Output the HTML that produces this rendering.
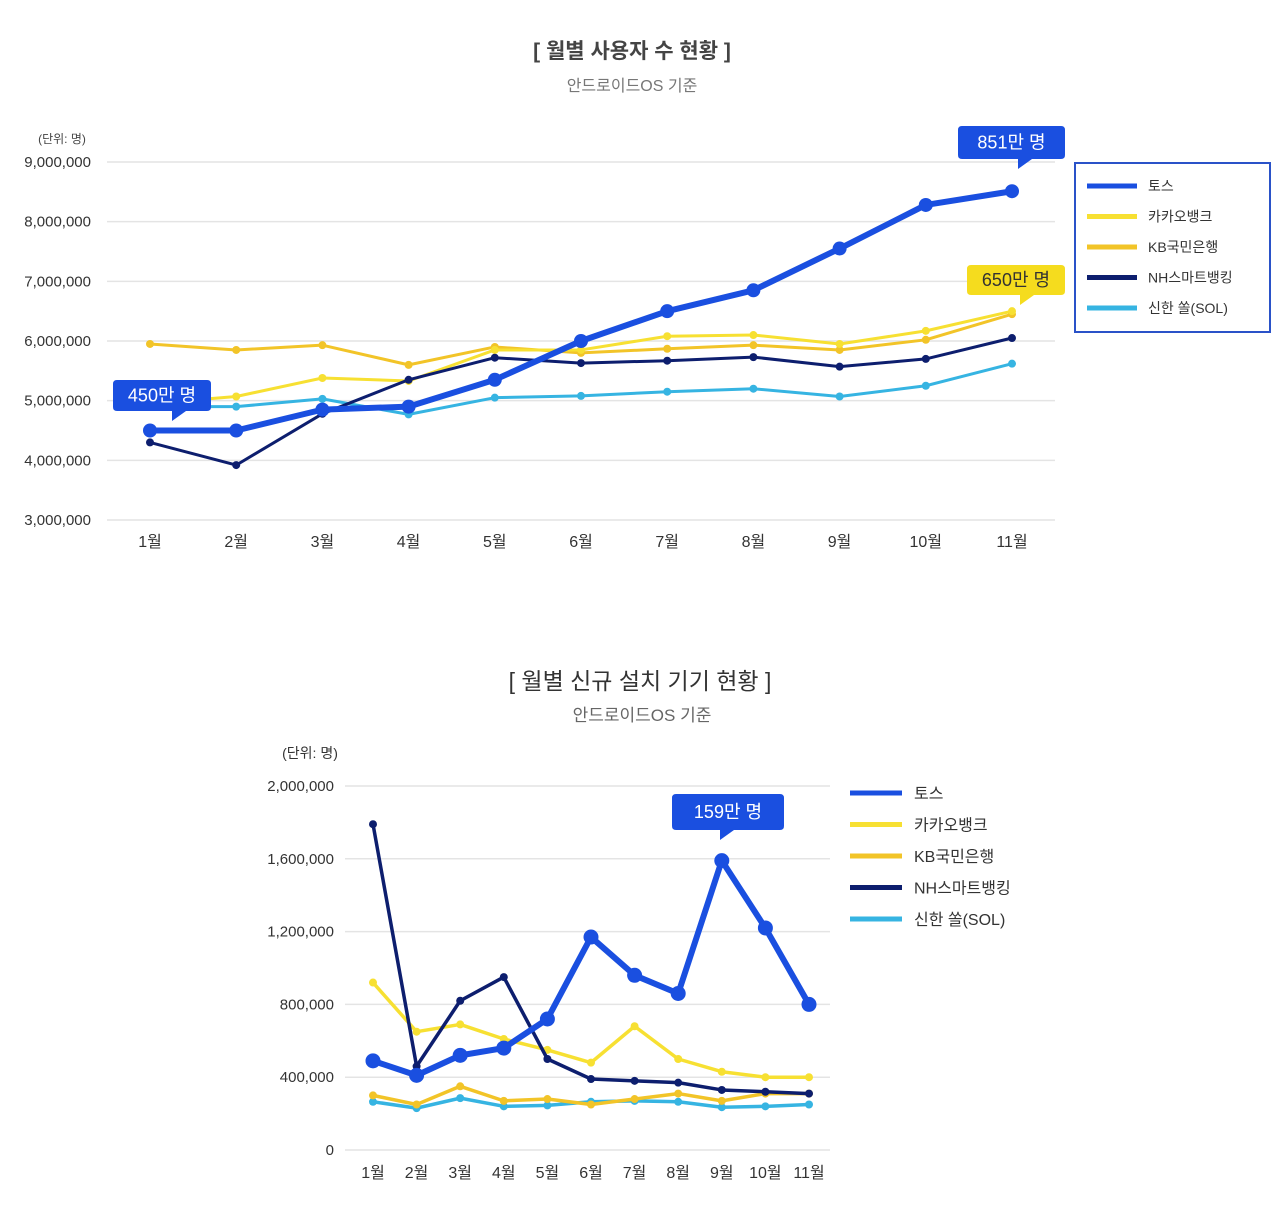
<!DOCTYPE html>
<html><head><meta charset="utf-8"><style>
body{margin:0;background:#fff;width:1280px;height:1222px;overflow:hidden;font-family:"Liberation Sans","Noto Sans CJK KR",sans-serif}
svg{position:absolute;left:0;top:0}
text{font-family:"Liberation Sans","Noto Sans CJK KR",sans-serif}
</style></head><body>
<svg id="s" width="1280" height="1222"></svg>
<script>
const months=['1월','2월','3월','4월','5월','6월','7월','8월','9월','10월','11월'];
const names=['토스','카카오뱅크','KB국민은행','NH스마트뱅킹','신한 쏠(SOL)'];
const colors=['#1a4fe0','#f7e032','#f2c428','#0d1e6e','#36b4e2'];
const topTicks=[3000000,4000000,5000000,6000000,7000000,8000000,9000000];
const topToss=[4.5,4.5,4.85,4.9,5.35,6.0,6.5,6.85,7.55,8.28,8.51];
const topKakao=[4.95,5.07,5.38,5.33,5.85,5.85,6.08,6.1,5.95,6.17,6.5];
const topKB=[5.95,5.85,5.93,5.6,5.9,5.8,5.87,5.93,5.85,6.02,6.45];
const topNH=[4.3,3.92,4.78,5.35,5.72,5.63,5.67,5.73,5.57,5.7,6.05];
const topSol=[4.9,4.9,5.03,4.77,5.05,5.08,5.15,5.2,5.07,5.25,5.62];
const botTicks=[0,400000,800000,1200000,1600000,2000000];
const botToss=[490,410,520,560,720,1170,960,860,1590,1220,800];
const botKakao=[920,650,690,610,550,480,680,500,430,400,400];
const botKB=[300,250,350,270,280,250,280,310,270,310,310];
const botNH=[1790,460,820,950,500,390,380,370,330,320,310];
const botSol=[265,230,285,240,245,265,270,265,235,240,250];

const s=document.getElementById('s');
function el(tag,attrs,txt){const e=document.createElementNS('http://www.w3.org/2000/svg',tag);for(const k in attrs)e.setAttribute(k,attrs[k]);if(txt!==undefined)e.textContent=txt;s.appendChild(e);return e;}
function fmt(v){return v.toLocaleString('en-US');}

function chart(cfg){
  const sx=i=>cfg.x0+i*(cfg.x1-cfg.x0)/(months.length-1);
  const sy=v=>cfg.yb-(v-cfg.vmin)/(cfg.vmax-cfg.vmin)*(cfg.yb-cfg.yt);
  cfg.ticks.forEach(t=>{
    const l=el('line',{x1:cfg.gx0,x2:cfg.gx1,y1:sy(t),y2:sy(t),stroke:'#e4e4e4','stroke-width':1.5});
    
    
    const tx=el('text',{x:cfg.tx,y:sy(t)+5,'text-anchor':'end','font-size':cfg.fs,fill:'#333'},fmt(t));
    
    
  });
  months.forEach((m,i)=>{
    const tx=el('text',{x:sx(i),y:cfg.xly,'text-anchor':'middle','font-size':cfg.fs+1,fill:'#333'},m);
    
    
  });
  const order=[4,2,1,3,0];
  order.forEach(k=>{
    const d=cfg.series[k];
    const pts=d.map((v,i)=>sx(i)+','+sy(v*cfg.mul)).join(' ');
    const w=k===0?cfg.tw:cfg.ow;
    const p=el('polyline',{points:pts,fill:'none',stroke:colors[k],'stroke-width':w,'stroke-linejoin':'round'});
    
    
    d.forEach((v,i)=>{
      const c=el('circle',{cx:sx(i),cy:sy(v*cfg.mul),r:k===0?cfg.tr:cfg.or,fill:colors[k]});
      
      
    });
  });
}
chart({x0:150,x1:1012,gx0:107,gx1:1055,yt:162,yb:520,vmin:3000000,vmax:9000000,ticks:topTicks,tx:91,fs:15,xly:547,mul:1e6,
  series:[topToss,topKakao,topKB,topNH,topSol],tw:6,ow:3,tr:7,or:4});
chart({x0:373,x1:809,gx0:345,gx1:830,yt:786,yb:1150,vmin:0,vmax:2000000,ticks:botTicks,tx:334,fs:15,xly:1178,mul:1e3,
  series:[botToss,botKakao,botKB,botNH,botSol],tw:6,ow:3.5,tr:7.5,or:4});

function t(x,y,str,sz,fill,w,name){const e=el('text',{x:x,y:y,'text-anchor':'middle','font-size':sz,fill:fill,'font-weight':w},str);return e;}
t(632,58,'[ 월별 사용자 수 현황 ]',21,'#444','bold','top-title');
t(632,91,'안드로이드OS 기준',16,'#777','normal','top-subtitle');
t(62,143,'(단위: 명)',12,'#444','normal','top-unit');
t(640,689,'[ 월별 신규 설치 기기 현황 ]',23,'#333','normal','bottom-title');
t(642,721,'안드로이드OS 기준',17,'#666','normal','bottom-subtitle');
t(310,758,'(단위: 명)',14,'#333','normal','bottom-unit');

function callout(x,y,w,h,str,bg,fg,tailX,name){
  const g=el('path',{d:`M${x+4},${y} h${w-8} q4,0 4,4 v${h-8} q0,4 -4,4 H${tailX+14} l-14,10 v-10 H${x+4} q-4,0 -4,-4 v-${h-8} q0,-4 4,-4z`,fill:bg});
  
  
  t(x+w/2,y+h/2+6,str,18,fg,'normal',name+'-text');
}
callout(113,380,98,31,'450만 명','#1a4fe0','#fff',172,'callout-450');
callout(958,126,107,33,'851만 명','#1a4fe0','#fff',1018,'callout-851');
callout(967,265,98,30,'650만 명','#f5dc1e','#333',1020,'callout-650');
callout(672,794,112,36,'159만 명','#1a4fe0','#fff',720,'callout-159');

const lb=el('rect',{x:1075,y:163,width:195,height:169,fill:'#fff',stroke:'#2a52c8','stroke-width':2});


names.forEach((n,i)=>{
  const y=186+i*30.5;
  const l=el('line',{x1:1087,x2:1137,y1:y,y2:y,stroke:colors[i],'stroke-width':5});
  
  
  const tx=el('text',{x:1148,y:y+5,'font-size':14,fill:'#333'},n);
  
  
  const y2=793+i*31.5;
  const l2=el('line',{x1:850,x2:902,y1:y2,y2:y2,stroke:colors[i],'stroke-width':5});
  
  
  const tx2=el('text',{x:914,y:y2+6,'font-size':16,fill:'#333'},n);
  
  
});
</script>
</body></html>
